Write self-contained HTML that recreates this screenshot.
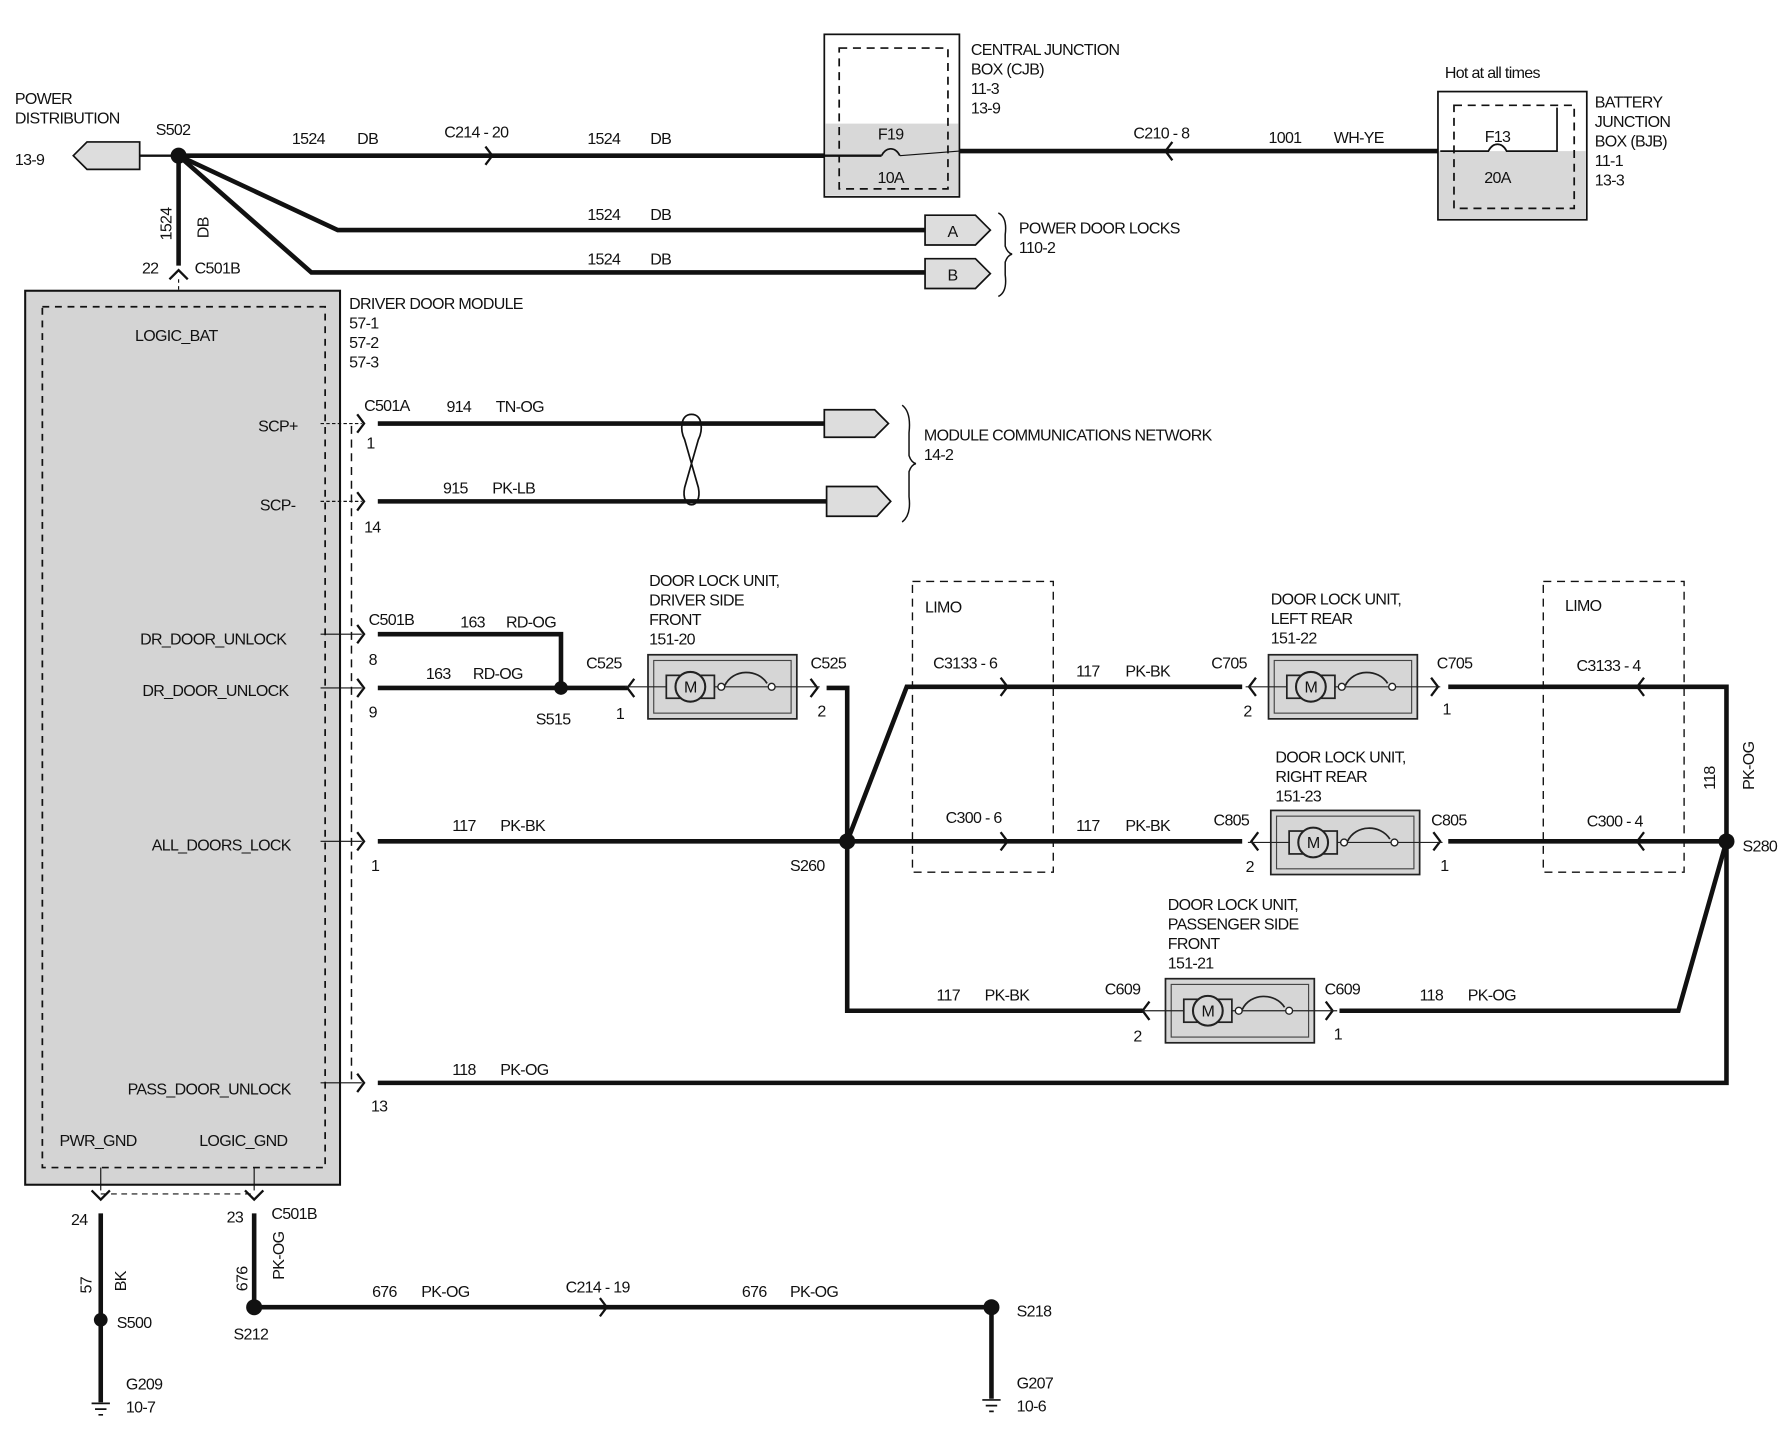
<!DOCTYPE html>
<html><head><meta charset="utf-8"><style>
html,body{margin:0;padding:0;background:#fff;}
svg{display:block;}
text{font-family:"Liberation Sans Narrow","Liberation Sans",sans-serif;font-size:14px;fill:#111;letter-spacing:-0.6px;}
</style></head><body>
<svg width="1786" height="1440" viewBox="0 0 1560 1258" preserveAspectRatio="none" xmlns="http://www.w3.org/2000/svg">
<defs>
<g id="unit">
<rect x="0" y="-28" width="130" height="56" fill="#d6d6d6" stroke="#222" stroke-width="1.5"/>
<rect x="5" y="-23" width="120" height="46" fill="none" stroke="#444" stroke-width="1"/>
<line x1="-20" y1="0" x2="150" y2="0" stroke="#222" stroke-width="1"/>
<rect x="16" y="-10" width="42" height="20" fill="#d6d6d6" stroke="#222" stroke-width="1.5"/>
<circle cx="37" cy="0" r="13" fill="#d6d6d6" stroke="#222" stroke-width="1.8"/>
<text x="37" y="5" text-anchor="middle" style="font-size:14px">M</text>
<circle cx="64" cy="0" r="3" fill="#fff" stroke="#222" stroke-width="1.2"/>
<path d="M67 -1 C74 -16 96 -16 104 -3" fill="none" stroke="#222" stroke-width="1.5"/>
<circle cx="108" cy="0" r="3" fill="#fff" stroke="#222" stroke-width="1.2"/>
</g>
</defs>
<g stroke="#111" fill="none" stroke-linecap="butt">
<path d="M64 136 L76 124 L122 124 L122 148 L76 148 Z" fill="#ddd" stroke-width="1.5"/>
<line x1="122" y1="136" x2="156" y2="136" stroke-width="2"/>
<line x1="156" y1="136" x2="720" y2="136" stroke-width="4"/>
<path d="M424 128 L430 136 L424 144" stroke-width="2"/>
<rect x="720" y="30" width="118" height="142" fill="#fff" stroke-width="1.5"/>
<rect x="721" y="108" width="116" height="63" fill="#d8d8d8" stroke="none"/>
<rect x="733" y="42" width="95" height="123" stroke-width="1.5" stroke-dasharray="7,5"/>
<line x1="838" y1="132" x2="1258" y2="132" stroke-width="4"/>
<line x1="720" y1="136" x2="770" y2="136" stroke-width="2"/>
<path d="M770 136 C774 128 782 128 786 136" stroke-width="1.5"/>
<line x1="786" y1="136" x2="838" y2="132" stroke-width="1"/>
<path d="M1024 124 L1018 132 L1024 140" stroke-width="2"/>
<rect x="1256" y="80" width="130" height="112" fill="#fff" stroke-width="1.5"/>
<rect x="1257" y="132" width="128" height="59" fill="#d8d8d8" stroke="none"/>
<rect x="1270" y="92" width="105" height="90" stroke-width="1.5" stroke-dasharray="7,5"/>
<path d="M1258 132 L1300 132 C1304 124 1312 124 1316 132 L1360 132 L1360 94" stroke-width="1.5"/>
<path d="M156 136 L295 201 L808 201" stroke-width="4"/>
<path d="M156 136 L272 238 L808 238" stroke-width="4"/>
<path d="M808 188 L852 188 L865 201 L852 214 L808 214 Z" fill="#ddd" stroke-width="1.5"/>
<path d="M808 226 L852 226 L865 239 L852 252 L808 252 Z" fill="#ddd" stroke-width="1.5"/>
<path d="M872 186 Q880 190 878 205 L878 215 Q880 221 884 222 Q880 223 878 229 L878 240 Q880 255 872 259" stroke-width="1.3"/>
<line x1="156" y1="136" x2="156" y2="232" stroke-width="4"/>
<path d="M148 244 L156 236 L164 244" stroke-width="2"/>
<line x1="156" y1="244" x2="156" y2="268" stroke-width="1" stroke-dasharray="3,3"/>
<rect x="22" y="254" width="275" height="781" fill="#d4d4d4" stroke-width="1.8"/>
<rect x="37" y="268" width="247" height="752" stroke-width="1.5" stroke-dasharray="6,5"/>
<line x1="307" y1="372" x2="307" y2="948" stroke-width="1.3" stroke-dasharray="7,5"/>
<line x1="280" y1="370" x2="316" y2="370" stroke-width="1" stroke-dasharray="3,2"/>
<path d="M312 362 L318 370 L312 378" stroke-width="2"/>
<line x1="330" y1="370" x2="720" y2="370" stroke-width="4"/>
<line x1="280" y1="438" x2="316" y2="438" stroke-width="1" stroke-dasharray="3,2"/>
<path d="M312 430 L318 438 L312 446" stroke-width="2"/>
<line x1="330" y1="438" x2="722" y2="438" stroke-width="4"/>
<path d="M720 358 L764 358 L776 370 L764 382 L720 382 Z" fill="#ddd" stroke-width="1.5"/>
<path d="M722 425 L766 425 L778 438 L766 451 L722 451 Z" fill="#ddd" stroke-width="1.5"/>
<path d="M604 362 C594 362 594 376 598 384 L610 426 C614 446 594 446 598 426 L610 384 C614 376 614 362 604 362 Z" stroke-width="1.5"/>
<path d="M788 354 Q796 360 794 378 L794 398 Q796 404 800 405 Q796 406 794 412 L794 434 Q796 450 788 456" stroke-width="1.3"/>
<line x1="280" y1="554" x2="316" y2="554" stroke-width="1"/>
<path d="M312 546 L318 554 L312 562" stroke-width="2"/>
<path d="M330 554 L490 554 L490 601" stroke-width="4"/>
<line x1="280" y1="601" x2="316" y2="601" stroke-width="1"/>
<path d="M312 593 L318 601 L312 609" stroke-width="2"/>
<line x1="330" y1="601" x2="548" y2="601" stroke-width="4"/>
<path d="M554 593 L548 601 L554 609" stroke-width="2"/>
<path d="M708 593 L714 601 L708 609" stroke-width="2"/>
<path d="M722 601 L740 601 L740 735" stroke-width="4"/>
<path d="M740 735 L792 600 L1085 600" stroke-width="4"/>
<path d="M874 592 L880 600 L874 608" stroke-width="2"/>
<path d="M1097 592 L1091 600 L1097 608" stroke-width="2"/>
<path d="M1250 592 L1256 600 L1250 608" stroke-width="2"/>
<path d="M1265 600 L1508 600 L1508 735" stroke-width="4"/>
<path d="M1436 592 L1430 600 L1436 608" stroke-width="2"/>
<rect x="797" y="508" width="123" height="254" stroke-width="1.2" stroke-dasharray="7,5"/>
<rect x="1348" y="508" width="123" height="254" stroke-width="1.2" stroke-dasharray="7,5"/>
<line x1="280" y1="735" x2="316" y2="735" stroke-width="1"/>
<path d="M312 727 L318 735 L312 743" stroke-width="2"/>
<line x1="330" y1="735" x2="1085" y2="735" stroke-width="4"/>
<path d="M874 727 L880 735 L874 743" stroke-width="2"/>
<path d="M1099 727 L1093 735 L1099 743" stroke-width="2"/>
<path d="M1252 727 L1258 735 L1252 743" stroke-width="2"/>
<line x1="1265" y1="735" x2="1508" y2="735" stroke-width="4"/>
<path d="M1436 727 L1430 735 L1436 743" stroke-width="2"/>
<path d="M740 735 L740 883 L998 883" stroke-width="4"/>
<path d="M1004 875 L998 883 L1004 891" stroke-width="2"/>
<path d="M1158 875 L1164 883 L1158 891" stroke-width="2"/>
<path d="M1170 883 L1466 883 L1508 735" stroke-width="4"/>
<line x1="280" y1="946" x2="316" y2="946" stroke-width="1"/>
<path d="M312 938 L318 946 L312 954" stroke-width="2"/>
<path d="M330 946 L1508 946 L1508 735" stroke-width="4"/>
<line x1="88" y1="1020" x2="88" y2="1040" stroke-width="1"/>
<line x1="222" y1="1020" x2="222" y2="1040" stroke-width="1"/>
<line x1="88" y1="1043" x2="222" y2="1043" stroke-width="1" stroke-dasharray="5,4"/>
<path d="M80 1040 L88 1048 L96 1040" stroke-width="2"/>
<path d="M214 1040 L222 1048 L230 1040" stroke-width="2"/>
<line x1="88" y1="1060" x2="88" y2="1225" stroke-width="4"/>
<line x1="222" y1="1060" x2="222" y2="1142" stroke-width="4"/>
<line x1="222" y1="1142" x2="866" y2="1142" stroke-width="4"/>
<path d="M524 1134 L530 1142 L524 1150" stroke-width="2"/>
<line x1="866" y1="1142" x2="866" y2="1222" stroke-width="4"/>
<path d="M80 1226 L96 1226 M83 1231 L93 1231 M86 1236 L90 1236" stroke-width="1.5"/>
<path d="M858 1223 L874 1223 M861 1228 L871 1228 M864 1233 L868 1233" stroke-width="1.5"/>
</g>
<use href="#unit" x="566" y="600"/>
<use href="#unit" x="1108" y="600"/>
<use href="#unit" x="1110" y="736"/>
<use href="#unit" x="1018" y="883"/>
<g fill="#111">
<circle cx="156" cy="136" r="7"/>
<circle cx="490" cy="601" r="6"/>
<circle cx="740" cy="735" r="7"/>
<circle cx="1508" cy="735" r="7"/>
<circle cx="88" cy="1153" r="6"/>
<circle cx="222" cy="1142" r="7"/>
<circle cx="866" cy="1142" r="7"/>
</g>
<g>
<text x="13" y="91">POWER</text><text x="13" y="108">DISTRIBUTION</text><text x="13" y="144">13-9</text>
<text x="136" y="118">S502</text>
<text x="255" y="126">1524</text><text x="312" y="126">DB</text>
<text x="388" y="120">C214  -  20</text>
<text x="513" y="126">1524</text><text x="568" y="126">DB</text>
<text x="848" y="48">CENTRAL  JUNCTION</text><text x="848" y="65">BOX (CJB)</text><text x="848" y="82">11-3</text><text x="848" y="99">13-9</text>
<text x="778" y="122" text-anchor="middle">F19</text><text x="778" y="160" text-anchor="middle">10A</text>
<text x="990" y="121">C210  -  8</text>
<text x="1108" y="125">1001</text><text x="1165" y="125">WH-YE</text>
<text x="1262" y="68">Hot at all times</text>
<text x="1308" y="124" text-anchor="middle">F13</text><text x="1308" y="160" text-anchor="middle">20A</text>
<text x="1393" y="94">BATTERY</text><text x="1393" y="111">JUNCTION</text><text x="1393" y="128">BOX (BJB)</text><text x="1393" y="145">11-1</text><text x="1393" y="162">13-3</text>
<text x="513" y="192">1524</text><text x="568" y="192">DB</text>
<text x="513" y="231">1524</text><text x="568" y="231">DB</text>
<text x="832" y="207" text-anchor="middle">A</text><text x="832" y="245" text-anchor="middle">B</text>
<text x="890" y="204">POWER DOOR LOCKS</text><text x="890" y="221">110-2</text>
<text transform="translate(150,210) rotate(-90)">1524</text>
<text transform="translate(182,208) rotate(-90)">DB</text>
<text x="124" y="239">22</text><text x="170" y="239">C501B</text>
<text x="305" y="270">DRIVER  DOOR  MODULE</text><text x="305" y="287">57-1</text><text x="305" y="304">57-2</text><text x="305" y="321">57-3</text>
<text x="154" y="298" text-anchor="middle">LOGIC_BAT</text>
<text x="260" y="377" text-anchor="end">SCP+</text>
<text x="258" y="446" text-anchor="end">SCP-</text>
<text x="318" y="359">C501A</text><text x="390" y="360">914</text><text x="433" y="360">TN-OG</text><text x="320" y="392">1</text>
<text x="387" y="431">915</text><text x="430" y="431">PK-LB</text><text x="318" y="465">14</text>
<text x="807" y="385">MODULE COMMUNICATIONS NETWORK</text><text x="807" y="402">14-2</text>
<text x="250" y="563" text-anchor="end">DR_DOOR_UNLOCK</text>
<text x="252" y="608" text-anchor="end">DR_DOOR_UNLOCK</text>
<text x="254" y="743" text-anchor="end">ALL_DOORS_LOCK</text>
<text x="254" y="956" text-anchor="end">PASS_DOOR_UNLOCK</text>
<text x="52" y="1001">PWR_GND</text><text x="174" y="1001">LOGIC_GND</text>
<text x="322" y="546">C501B</text><text x="402" y="548">163</text><text x="442" y="548">RD-OG</text><text x="322" y="581">8</text>
<text x="372" y="593">163</text><text x="413" y="593">RD-OG</text><text x="322" y="627">9</text>
<text x="468" y="633">S515</text>
<text x="512" y="584">C525</text><text x="538" y="628">1</text>
<text x="708" y="584">C525</text><text x="714" y="626">2</text>
<text x="567" y="512">DOOR LOCK UNIT,</text><text x="567" y="529">DRIVER SIDE</text><text x="567" y="546">FRONT</text><text x="567" y="563">151-20</text>
<text x="808" y="535">LIMO</text><text x="1367" y="534">LIMO</text>
<text x="815" y="584">C3133  -  6</text><text x="940" y="591">117</text><text x="983" y="591">PK-BK</text>
<text x="1058" y="584">C705</text><text x="1086" y="626">2</text><text x="1255" y="584">C705</text><text x="1260" y="624">1</text>
<text x="1110" y="528">DOOR LOCK UNIT,</text><text x="1110" y="545">LEFT REAR</text><text x="1110" y="562">151-22</text>
<text x="1377" y="586">C3133  -  4</text>
<text transform="translate(1498,690) rotate(-90)">118</text>
<text transform="translate(1532,690) rotate(-90)">PK-OG</text>
<text x="395" y="726">117</text><text x="437" y="726">PK-BK</text><text x="324" y="761">1</text>
<text x="690" y="761">S260</text>
<text x="826" y="719">C300  -  6</text><text x="940" y="726">117</text><text x="983" y="726">PK-BK</text>
<text x="1060" y="721">C805</text><text x="1088" y="762">2</text><text x="1250" y="721">C805</text><text x="1258" y="761">1</text>
<text x="1114" y="666">DOOR LOCK UNIT,</text><text x="1114" y="683">RIGHT REAR</text><text x="1114" y="700">151-23</text>
<text x="1386" y="722">C300  -  4</text><text x="1522" y="744">S280</text>
<text x="1020" y="795">DOOR LOCK UNIT,</text><text x="1020" y="812">PASSENGER SIDE</text><text x="1020" y="829">FRONT</text><text x="1020" y="846">151-21</text>
<text x="818" y="874">117</text><text x="860" y="874">PK-BK</text>
<text x="965" y="869">C609</text><text x="990" y="910">2</text>
<text x="1157" y="869">C609</text><text x="1165" y="908">1</text>
<text x="1240" y="874">118</text><text x="1282" y="874">PK-OG</text>
<text x="395" y="939">118</text><text x="437" y="939">PK-OG</text><text x="324" y="971">13</text>
<text x="62" y="1070">24</text>
<text transform="translate(80,1130) rotate(-90)">57</text>
<text transform="translate(110,1128) rotate(-90)">BK</text>
<text x="102" y="1160">S500</text>
<text x="110" y="1214">G209</text><text x="110" y="1234">10-7</text>
<text x="198" y="1068">23</text><text x="237" y="1065">C501B</text>
<text transform="translate(216,1128) rotate(-90)">676</text>
<text transform="translate(248,1118) rotate(-90)">PK-OG</text>
<text x="204" y="1170">S212</text>
<text x="325" y="1133">676</text><text x="368" y="1133">PK-OG</text>
<text x="494" y="1129">C214  -  19</text>
<text x="648" y="1133">676</text><text x="690" y="1133">PK-OG</text>
<text x="888" y="1150">S218</text>
<text x="888" y="1213">G207</text><text x="888" y="1233">10-6</text>
</g>
</svg>
</body></html>
